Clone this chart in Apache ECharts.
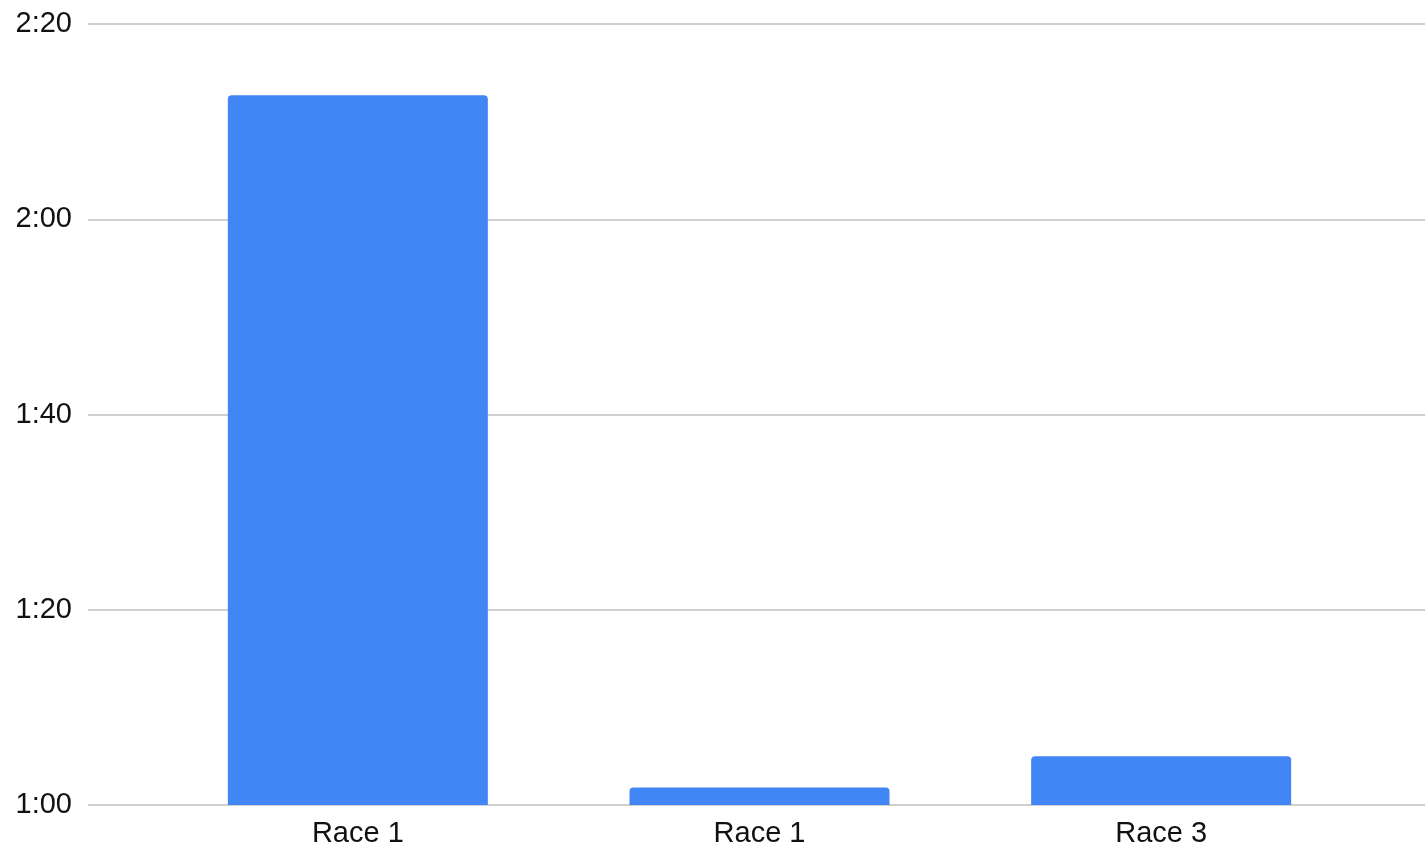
<!DOCTYPE html>
<html>
<head>
<meta charset="utf-8">
<script src="https://cdn.jsdelivr.net/npm/echarts@6/dist/echarts.min.js"></script>
<style>
    html, body { margin: 0; padding: 0; background: #fff; }
    #main { width: 1425px; height: 851px; }
</style>
</head>
<body>
<div id="main"></div>
<script>
// race names (the second one really is "Race 1" in the source)
var categories = ['Race 1', 'Race 1', 'Race 3'];
// times in seconds
var raceTimes = [132.7, 61.8, 65];
// y ticks, seconds
var yMin = 60, yMax = 140, yStep = 20;

function fmtTime(sec) {
    var m = Math.floor(sec / 60);
    var s = Math.round(sec % 60);
    return m + ':' + (s < 10 ? '0' + s : s);
}

var fontFam = '"Liberation Sans", Arial, sans-serif';

var option = {
    animation: false,
    grid: [
        // full width grid only for the y labels + horizontal lines
        {left: 88, right: 0, top: 24, bottom: 46},
        // narrower grid holding the bars
        {left: 157, right: 63, top: 24, bottom: 46}
    ],
    xAxis: [
        {gridIndex: 0, type: 'value', show: false},
        {
            gridIndex: 1,
            type: 'category',
            data: categories,
            axisLine: {show: false},
            axisTick: {show: false},
            axisLabel: {
                color: '#111',
                fontSize: 29,
                fontFamily: fontFam,
                margin: 14
            }
        }
    ],
    yAxis: [
        {
            gridIndex: 0,
            type: 'value',
            min: yMin,
            max: yMax,
            interval: yStep,
            axisLine: {show: false},
            axisTick: {show: false},
            axisLabel: {
                color: '#111',
                fontSize: 29,
                fontFamily: fontFam,
                margin: 16,
                formatter: fmtTime
            },
            splitLine: {lineStyle: {color: '#cfcfcf', width: 2}}
        },
        {
            gridIndex: 1,
            type: 'value',
            min: yMin,
            max: yMax,
            interval: yStep,
            show: false
        }
    ],
    series: [
        {
            type: 'bar',
            xAxisIndex: 1,
            yAxisIndex: 1,
            data: raceTimes,
            barWidth: 260,
            clip: true,
            itemStyle: {color: '#4285f4', borderRadius: [4, 4, 0, 0]}
        }
    ]
};

var myChart = echarts.init(document.getElementById('main'));
myChart.setOption(option);
</script>
</body>
</html>
